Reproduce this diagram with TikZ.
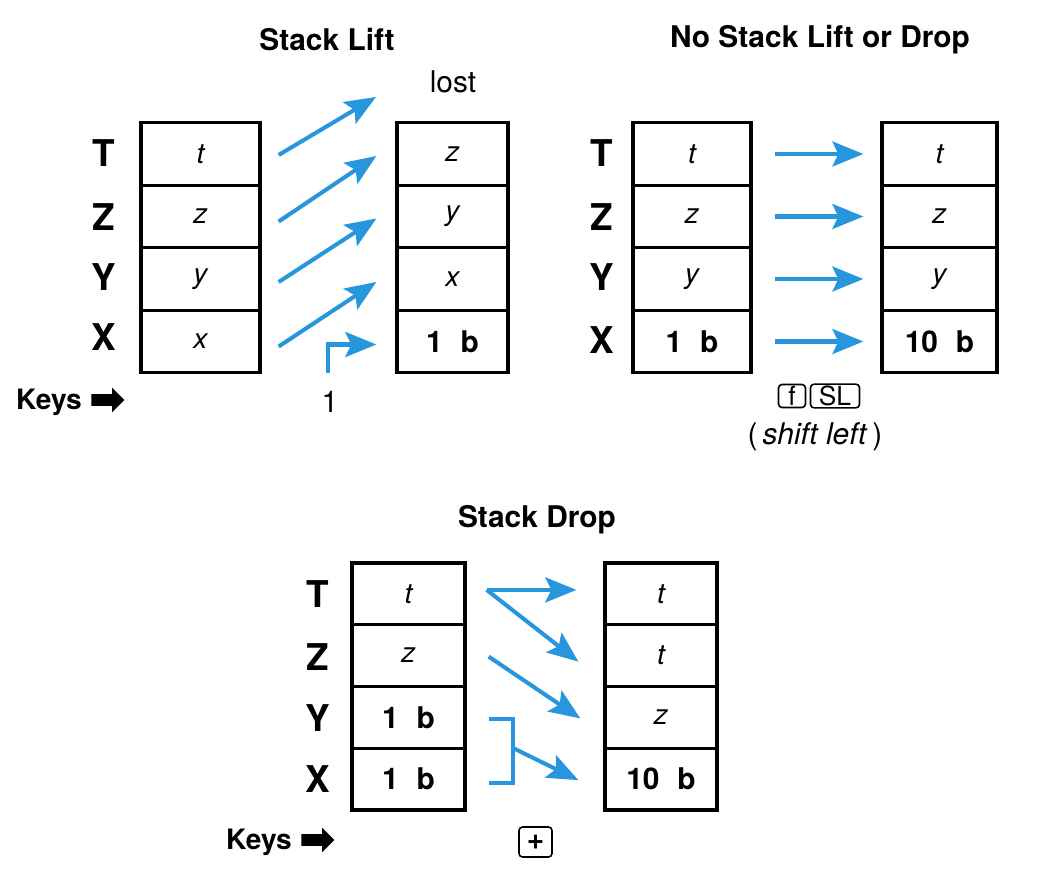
\documentclass[tikz,border=0pt]{standalone}
\usepackage{fontspec}
\setmainfont{TeX Gyre Heros}
\usetikzlibrary{arrows.meta,calc,shapes.arrows}
\definecolor{hpblue}{RGB}{40,150,220}
\newcommand{\bval}[1]{{\upshape\bfseries\fontsize{17}{19}\selectfont #1}}
\tikzset{
  cell/.style={draw,line width=1.9pt,minimum height=1.25cm,inner sep=0pt,font=\fontsize{16}{18}\selectfont\itshape},
  reg/.style={font=\fontsize{21}{24}\selectfont\bfseries},
  title/.style={font=\fontsize{17}{20}\selectfont\bfseries},
  plain/.style={font=\fontsize{17}{20}\selectfont},
  flow/.style={draw=hpblue,line width=2.3pt,-{Stealth[length=0.62cm,width=0.5cm,inset=0.12cm]}},
  flowline/.style={draw=hpblue,line width=2.3pt},
  keycap/.style={draw,rounded corners=2pt,line width=0.9pt,minimum height=0.46cm,inner sep=1pt,font=\fontsize{15}{17}\selectfont},
  keyarrow/.style={single arrow,fill,minimum height=0.66cm,inner sep=0.11cm,single arrow head extend=0.13cm}
}
\begin{document}
\begin{tikzpicture}[x=0.02cm,y=-0.02cm]
\useasboundingbox (0,0) rectangle (1040,872);

% Stack Lift
\node[title] (liftT) at (327,40) {Stack Lift};
\node[plain] (lostL) at (453,82) {lost};
\node[reg] at (104,153) {T};
\node[reg] at (104,217) {Z};
\node[reg] at (104,277) {Y};
\node[reg] at (104,337) {X};
\node[cell,minimum width=2.38cm] (a1) at (200.5,154) {t};
\node[cell,minimum width=2.38cm] (a2) at (200.5,216.5) {z};
\node[cell,minimum width=2.38cm] (a3) at (200.5,279) {y};
\node[cell,minimum width=2.38cm] (a4) at (200.5,341.5) {x};
\node[cell,minimum width=2.22cm] (b1) at (452.5,154) {z};
\node[cell,minimum width=2.22cm] (b2) at (452.5,216.5) {y};
\node[cell,minimum width=2.22cm] (b3) at (452.5,279) {x};
\node[cell,minimum width=2.22cm] (b4) at (452.5,341.5) {\bval{1\hspace{0.6em}b}};
\coordinate (lost) at (376,97);
\coordinate (entry) at (328,373);
\draw[flow] ($(a1.east)+(17,1)$) -- (lost);
\draw[flow] ($(a2.east)+(17,5)$) -- ($(b1.west)+(-19,2)$);
\draw[flow] ($(a3.east)+(17,3)$) -- ($(b2.west)+(-19,2)$);
\draw[flow] ($(a4.east)+(17,5)$) -- ($(b3.west)+(-19,3)$);
\draw[flow] (entry) |- ($(b4.west)+(-19,3)$);
\node[font=\fontsize{16}{19}\selectfont\bfseries] (keysA) at (49,402) {Keys};
\node[keyarrow] (keysArrA) at (105,400) {};
\node[plain] (keyOne) at (330,402) {1};

% No Stack Lift or Drop
\node[title] (noneT) at (820,40) {No Stack Lift or Drop};
\node[reg] at (602,153) {T};
\node[reg] at (602,217) {Z};
\node[reg] at (602,277) {Y};
\node[reg] at (602,340) {X};
\node[cell,minimum width=2.36cm] (c1) at (692,154) {t};
\node[cell,minimum width=2.36cm] (c2) at (692,216.5) {z};
\node[cell,minimum width=2.36cm] (c3) at (692,279) {y};
\node[cell,minimum width=2.36cm] (c4) at (692,341.5) {\bval{1\hspace{0.6em}b}};
\node[cell,minimum width=2.30cm] (d1) at (939.5,154) {t};
\node[cell,minimum width=2.30cm] (d2) at (939.5,216.5) {z};
\node[cell,minimum width=2.30cm] (d3) at (939.5,279) {y};
\node[cell,minimum width=2.30cm] (d4) at (939.5,341.5) {\bval{10\hspace{0.6em}b}};
\draw[flow,shorten <=0.44cm,shorten >=0.34cm] (c1.east) -- (d1.west);
\draw[flow,shorten <=0.44cm,shorten >=0.34cm] (c2.east) -- (d2.west);
\draw[flow,shorten <=0.44cm,shorten >=0.34cm] (c3.east) -- (d3.west);
\draw[flow,shorten <=0.44cm,shorten >=0.34cm] (c4.east) -- (d4.west);
\node[keycap,minimum width=0.54cm] (keyF) at (792,396) {f};
\node[keycap,minimum width=0.98cm] (keySL) at (835,396) {SL};
\node[font=\fontsize{17}{19}\selectfont] (shiftL) at (815,437) {(\,\textit{shift left}\,)};

% Stack Drop
\node[title] (dropT) at (537,520) {Stack Drop};
\node[reg] at (318,594) {T};
\node[reg] at (318,657) {Z};
\node[reg] at (318,718) {Y};
\node[reg] at (318,779) {X};
\node[cell,minimum width=2.26cm,minimum height=1.235cm] (e1) at (408.5,593.9) {t};
\node[cell,minimum width=2.26cm,minimum height=1.235cm] (e2) at (408.5,655.6) {z};
\node[cell,minimum width=2.26cm,minimum height=1.235cm] (e3) at (408.5,717.4) {\bval{1\hspace{0.6em}b}};
\node[cell,minimum width=2.26cm,minimum height=1.235cm] (e4) at (408.5,779.1) {\bval{1\hspace{0.6em}b}};
\node[cell,minimum width=2.24cm,minimum height=1.235cm] (f1) at (661,593.9) {t};
\node[cell,minimum width=2.24cm,minimum height=1.235cm] (f2) at (661,655.6) {t};
\node[cell,minimum width=2.24cm,minimum height=1.235cm] (f3) at (661,717.4) {z};
\node[cell,minimum width=2.24cm,minimum height=1.235cm] (f4) at (661,779.1) {\bval{10\hspace{0.6em}b}};
\coordinate (sum) at (513,748);
\draw[flow] ($(e1.east)+(20,-4)$) -- ($(f1.west)+(-27,-4)$);
\draw[flow] ($(e1.east)+(20,-4)$) -- ($(f2.west)+(-25,6)$);
\draw[flow] ($(e2.east)+(22,1)$) -- ($(f3.west)+(-23,1)$);
\draw[flowline] ($(e3.east)+(22,2)$) -| (sum) |- ($(e4.east)+(22,4)$);
\draw[flow] (sum) -- ($(f4.west)+(-25,1)$);
\node[font=\fontsize{16}{19}\selectfont\bfseries] (keysB) at (259,842) {Keys};
\node[keyarrow] (keysArrB) at (315,840) {};
\node[keycap,minimum width=0.66cm,minimum height=0.6cm,font=\fontsize{17}{19}\selectfont\bfseries] (keyPlus) at (535.5,842) {+};

\end{tikzpicture}
\end{document}
